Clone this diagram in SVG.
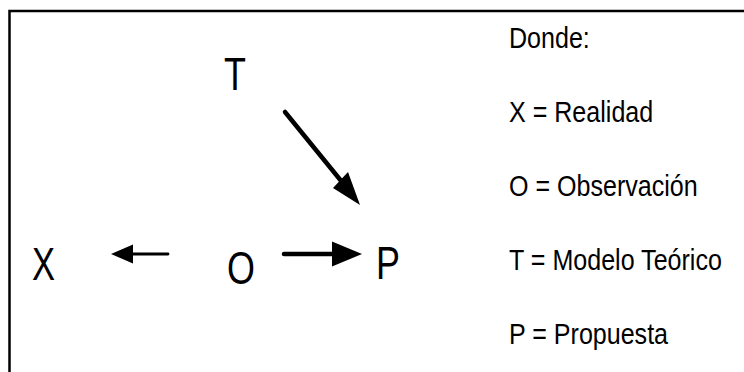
<svg xmlns="http://www.w3.org/2000/svg" width="744" height="372" viewBox="0 0 744 372">
<style>
.lbl{font-family:"Liberation Sans",Arial,sans-serif;font-size:46px;fill:#000}
.leg{font-family:"Liberation Sans",Arial,sans-serif;font-size:29.5px;fill:#000}
.shaft{stroke:#000;fill:none;stroke-linecap:round}
.head{fill:#000;stroke:none}
</style>
<rect x="0" y="0" width="744" height="372" fill="#fff"/>
<rect id="frame" x="9.5" y="11" width="760" height="380" fill="none" stroke="#000" stroke-width="2.5"/>
<g id="node-T"><text class="lbl" transform="translate(224,90) scale(0.78,1)">T</text></g>
<g id="node-X"><text class="lbl" transform="translate(32,280) scale(0.75,1)">X</text></g>
<g id="node-O"><text class="lbl" transform="translate(227,284) scale(0.78,1)">O</text></g>
<g id="node-P"><text class="lbl" transform="translate(376,279) scale(0.78,1)">P</text></g>
<g id="connectors">
<path class="shaft" d="M168,254 H130" stroke-width="2.8"/>
<polygon class="head" points="111,254 133,244.5 133,263.5"/>
<path class="shaft" d="M284,254 H334" stroke-width="4.5"/>
<polygon class="head" points="362,254 332,241.5 332,266.5"/>
<path class="shaft" d="M285,112 L342,182" stroke-width="4.5"/>
<polygon class="head" points="360,205 333,188 348,172"/>
</g>
<g id="legend">
<text class="leg" transform="translate(509,48) scale(0.85,1)">Donde:</text>
<text class="leg" transform="translate(509,122) scale(0.85,1)">X = Realidad</text>
<text class="leg" transform="translate(509,196) scale(0.85,1)">O = Observación</text>
<text class="leg" transform="translate(509,270) scale(0.85,1)">T = Modelo Teórico</text>
<text class="leg" transform="translate(509,344) scale(0.85,1)">P = Propuesta</text>
</g>
</svg>
